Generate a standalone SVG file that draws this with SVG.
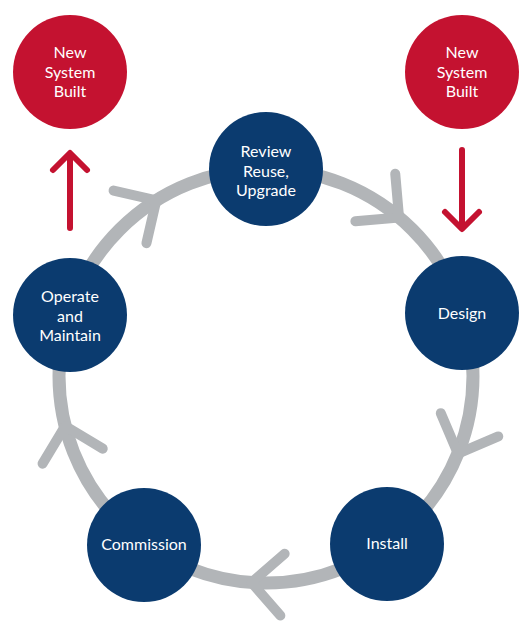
<svg xmlns="http://www.w3.org/2000/svg" width="532" height="631" viewBox="0 0 532 631">
<style>
.ring{fill:none;stroke:#b2b5b8;stroke-width:13}
.chev{fill:none;stroke:#b2b5b8;stroke-width:10;stroke-linecap:round;stroke-linejoin:round}
.red-arrow{fill:none;stroke:#c41230;stroke-width:6;stroke-linecap:round;stroke-linejoin:round}
.blue{fill:#0b3b6f}
.red{fill:#c41230}
text{font-family:Lato,"Open Sans","Liberation Sans",sans-serif;font-size:16px;fill:#ffffff;text-anchor:middle}
</style>
<rect width="532" height="631" fill="#ffffff"/>
<g id="connectors">
  <circle class="ring" cx="266" cy="376" r="207"/>
  <path class="chev" d="M235,138 L266,169 L235,200" transform="rotate(40 266 376)"/>
  <path class="chev" d="M235,138 L266,169 L235,200" transform="rotate(112 266 376)"/>
  <path class="chev" d="M235,138 L266,169 L235,200" transform="rotate(184 266 376)"/>
  <path class="chev" d="M235,138 L266,169 L235,200" transform="rotate(256 266 376)"/>
  <path class="chev" d="M235,138 L266,169 L235,200" transform="rotate(328 266 376)"/>
  <path class="red-arrow" d="M70,228 L70,154 M53,170 L70,153 L87,170"/>
  <path class="red-arrow" d="M462,150 L462,228 M445,212 L462,229 L479,212"/>
</g>
<g id="new-system-left">
  <circle class="red" cx="70" cy="72" r="57"/>
  <text x="70" y="58">New</text>
  <text x="70" y="78">System</text>
  <text x="70" y="97">Built</text>
</g>
<g id="new-system-right">
  <circle class="red" cx="462" cy="72" r="57"/>
  <text x="462" y="58">New</text>
  <text x="462" y="78">System</text>
  <text x="462" y="97">Built</text>
</g>
<g id="review">
  <circle class="blue" cx="266" cy="169" r="57"/>
  <text x="266" y="157">Review</text>
  <text x="266" y="177">Reuse,</text>
  <text x="266" y="196">Upgrade</text>
</g>
<g id="design">
  <circle class="blue" cx="462" cy="313" r="57"/>
  <text x="462" y="319">Design</text>
</g>
<g id="install">
  <circle class="blue" cx="387" cy="544" r="57"/>
  <text x="387" y="549">Install</text>
</g>
<g id="commission">
  <circle class="blue" cx="144" cy="545" r="57"/>
  <text x="144" y="550">Commission</text>
</g>
<g id="operate">
  <circle class="blue" cx="70" cy="315" r="57"/>
  <text x="70" y="302">Operate</text>
  <text x="70" y="322">and</text>
  <text x="70" y="341">Maintain</text>
</g>
</svg>
